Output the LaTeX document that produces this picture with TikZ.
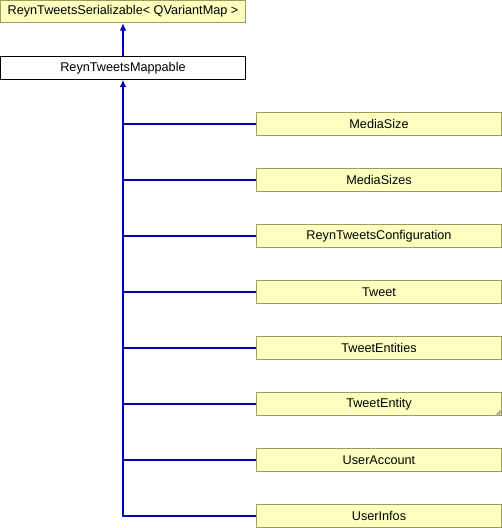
\documentclass[tikz,border=0pt]{standalone}
\usepackage{fontspec}
\setmainfont{Liberation Sans}
\usepackage{tikz}
\usepackage{xcolor}
\usetikzlibrary{arrows.meta}

\definecolor{clsfill}{HTML}{FFFFC0}
\definecolor{clsline}{HTML}{9C9C5C}
\definecolor{edgeblue}{HTML}{0000B4}

\begin{document}
\begin{tikzpicture}[x=0.75pt, y=-0.75pt,
    cls/.style={draw=clsline, fill=clsfill, line width=0.75pt, minimum width=183.5pt, minimum height=17pt, inner sep=0pt, font=\fontsize{9.5}{11}\selectfont},
    inherit/.style={draw=edgeblue, line width=0.8pt, {Latex[length=5.5pt,width=5pt]}-},
    branch/.style={draw=edgeblue, line width=0.8pt}]
    \useasboundingbox (0,0) rectangle (502,528);

    \node[cls] (ser) at (123,11.5) {ReynTweetsSerializable< QVariantMap >};
    \node[cls, draw=black, fill=white] (map) at (123,68) {ReynTweetsMappable};

    \node[cls] (msize) at (379,124) {MediaSize};
    \node[cls] (msizes) at (379,180) {MediaSizes};
    \node[cls] (config) at (379,236) {ReynTweetsConfiguration};
    \node[cls] (tweet) at (379,292) {Tweet};
    \node[cls] (tents) at (379,348) {TweetEntities};
    \node[cls] (tent) at (379,404) {TweetEntity};
    \node[cls] (uacc) at (379,460) {UserAccount};
    \node[cls] (uinfo) at (379,516) {UserInfos};

    \fill[gray!70] ([xshift=-1pt,yshift=1pt]tent.south east) -- ++(-5,0) -- ++(5,-5) -- cycle;

    \draw[inherit] (ser) -- (map);
    \draw[inherit] (map) -- (map.south |- uinfo.west) -- (uinfo.west);
    \draw[branch] (map.south |- msize.west) -- (msize.west);
    \draw[branch] (map.south |- msizes.west) -- (msizes.west);
    \draw[branch] (map.south |- config.west) -- (config.west);
    \draw[branch] (map.south |- tweet.west) -- (tweet.west);
    \draw[branch] (map.south |- tents.west) -- (tents.west);
    \draw[branch] (map.south |- tent.west) -- (tent.west);
    \draw[branch] (map.south |- uacc.west) -- (uacc.west);
\end{tikzpicture}
\end{document}
